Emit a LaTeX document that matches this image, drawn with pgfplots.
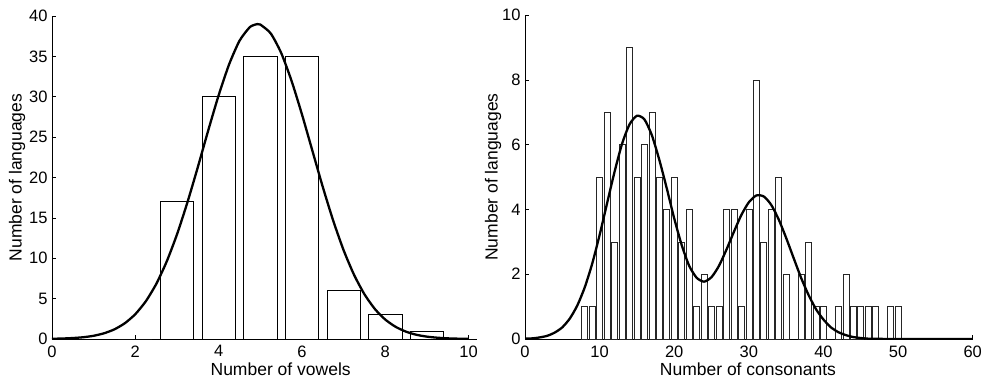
\documentclass[border=0pt]{standalone}
\usepackage{pgfplots}
\pgfplotsset{compat=1.18}
\usepackage{fontspec}
\setmainfont{Liberation Sans}
\begin{document}
\begin{tikzpicture}
\useasboundingbox (-52pt,-45pt) rectangle (939pt,339pt);
\pgfplotsset{
  myaxis/.style={
    scale only axis,
    axis x line*=bottom, axis y line*=left,
    axis line style={-, black, line width=0.7pt},
    tick align=inside,
    tick style={black, line width=0.6pt},
    major tick length=4pt,
    /pgf/number format/assume math mode=true,
    tick label style={font=\fontsize{16.5}{16.5}\selectfont},
    label style={font=\fontsize{17.5}{17.5}\selectfont},
    xticklabel style={yshift=-3pt},
    yticklabel style={xshift=-1pt},
    ymin=0,
  },
  hbar/.style={ybar, bar width=0.8, fill=white, draw=black, line width=0.6pt},
  curve/.style={black, line width=2.3pt, smooth, tension=0.4},
}
% Left: vowels
\begin{axis}[myaxis, at={(0pt,0pt)}, anchor=south west,
  width=425pt, height=323pt,
  xmin=0, xmax=10.2, ymax=40,
  xtick={0,2,4,6,8,10}, ytick={0,5,10,15,20,25,30,35,40},
  xlabel={Number of vowels}, ylabel={Number of languages},
  xlabel style={at={(axis description cs:0.538,0)}, anchor=base, yshift=-36pt},
  ylabel style={at={(axis description cs:-0.082,0.5)}, anchor=center},
]
\addplot[hbar] coordinates {(2,0) (3,17) (4,30) (5,35) (6,35) (7,6) (8,3) (9,1)};
\addplot[curve] coordinates {
(0,0.03) (0.25,0.06) (0.5,0.12) (0.75,0.22) (1,0.40) (1.25,0.71) (1.5,1.20) (1.75,1.96)
(2,3.08) (2.25,4.66) (2.5,6.80) (2.75,9.56) (3,12.96) (3.25,16.92) (3.5,21.29) (3.75,25.84)
(4,30.19) (4.25,34.0) (4.5,36.93) (4.75,38.63) (4.93,39.0) (5,38.94) (5.25,37.84) (5.5,35.43)
(5.75,31.96) (6,27.80) (6.25,23.30) (6.5,18.81) (6.75,14.64) (7,10.98) (7.25,7.94) (7.5,5.53)
(7.75,3.71) (8,2.40) (8.25,1.50) (8.5,0.90) (8.75,0.52) (9,0.29) (9.25,0.16) (9.5,0.08)
(9.75,0.04) (10,0.02)};
\end{axis}
% Right: consonants
\begin{axis}[myaxis, at={(473pt,0pt)}, anchor=south west,
  width=447.7pt, height=324pt,
  xmin=0, xmax=60, ymax=10,
  xtick={0,10,20,30,40,50,60}, ytick={0,2,4,6,8,10},
  xlabel={Number of consonants}, ylabel={Number of languages},
  xlabel style={at={(axis description cs:0.498,0)}, anchor=base, yshift=-36pt},
  ylabel style={at={(axis description cs:-0.0715,0.5)}, anchor=center},
]
\addplot[hbar, draw=black!85] coordinates {
(8,1) (9,1) (10,5) (11,7) (12,3) (13,6) (14,9) (15,5) (16,6) (17,7) (18,5) (19,4)
(20,5) (21,3) (22,4) (23,1) (24,2) (25,1) (26,1) (27,4) (28,4) (29,1) (30,4) (31,8)
(32,3) (33,4) (34,5) (35,2) (37,2) (38,3) (39,1) (40,1) (42,1) (43,2) (44,1) (45,1)
(46,1) (47,1) (49,1) (50,1)};
\addplot[curve] coordinates {
(0,0.01) (1,0.02) (2,0.05) (3,0.10) (4,0.20) (5,0.36) (6,0.63) (7,1.03) (8,1.59) (9,2.32)
(10,3.21) (11,4.19) (12,5.16) (13,6.02) (14,6.62) (15,6.89) (16,6.78) (17,6.29) (18,5.53)
(19,4.65) (20,3.72) (21,2.90) (22,2.26) (23,1.89) (24,1.77) (25,1.91) (26,2.26) (27,2.76)
(28,3.31) (29,3.83) (30,4.22) (31,4.43) (32,4.40) (33,4.14) (34,3.69) (35,3.12) (36,2.50)
(37,1.89) (38,1.36) (39,0.92) (40,0.60) (41,0.36) (42,0.21) (43,0.12) (44,0.06) (45,0.03)
(46,0.01) (47,0.006) (48,0.003) (50,0.0) (60,0.0)};
\end{axis}
\end{tikzpicture}
\end{document}
